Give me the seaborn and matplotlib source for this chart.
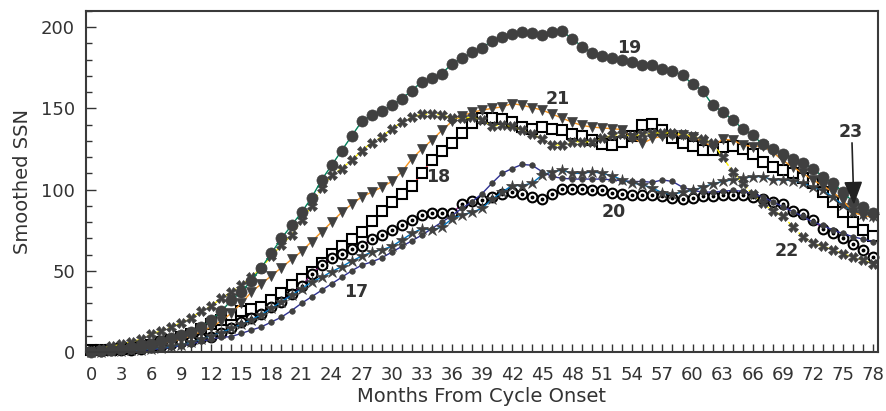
import matplotlib
matplotlib.use("Agg")
import matplotlib.pyplot as plt
from matplotlib.ticker import MultipleLocator
import seaborn as sns

# months since cycle onset
months = list(range(79))

# smoothed sunspot number per cycle
cycle17 = [0, 0.2, 0.4, 0.6, 0.8, 1, 1.5, 2, 3, 4, 5, 6.5, 8, 9, 9.5, 11.5, 13.5, 15.5, 18.5, 21.5,
           25.5, 30, 34, 38, 42, 46, 50, 53.5, 55.5, 58, 61.5, 65, 68.5, 72, 76, 80, 84, 88.5, 92.5, 97.5,
           104, 110, 113, 115.5, 115, 111, 108, 107, 106.5, 106.5, 106.5, 106.5, 106, 105.5, 105, 105, 104.5, 106, 105, 101.5,
           99.5, 98.5, 98.5, 99, 99.5, 99, 97.5, 95.5, 92.5, 89.5, 86.5, 83.5, 80, 78, 75, 73, 71, 69.5, 68]
cycle18 = [1, 1, 1.5, 2, 2.5, 3.5, 4.5, 6, 7.5, 9, 11, 14, 17, 19.5, 22.5, 25.5, 26.5, 28, 32, 36.5,
           41, 45, 49.5, 55, 60.5, 65, 69.5, 74, 80.5, 87, 92.5, 97.5, 102, 110, 118.5, 124, 129, 135, 141, 144,
           144, 143.5, 141.5, 138.5, 137.5, 138.5, 137.5, 136.5, 134.5, 133, 130.5, 128, 127.5, 129.5, 133, 139.5, 140.5, 136.5, 131.5, 128.5,
           127, 124.5, 124.5, 126.5, 127, 125, 122, 117, 114, 112, 110, 107, 104, 98.5, 92.5, 86, 80, 75, 71.5]
cycle19 = [0, 0.5, 1, 2, 3, 4, 5, 6.5, 8.5, 10.5, 12.5, 15.5, 20, 25, 32, 37, 44, 52, 61, 70,
           78, 86, 95, 106, 115, 124, 133, 142, 146, 148.5, 152, 156, 161, 166.5, 168.5, 171.5, 177.5, 181, 184.5, 187.5,
           191.5, 194, 196, 197, 196.5, 195, 197, 197.5, 193, 188, 184, 182, 181, 180, 178.5, 177, 176.5, 174.5, 173, 170.5,
           165, 161, 152, 148, 143, 137.5, 133.5, 128, 125, 122, 119, 116.5, 113, 108, 104, 98.5, 92.5, 89.5, 85.5]
cycle20 = [0.5, 0.5, 1, 1, 1.5, 2, 3, 4, 5, 6, 7, 8.5, 9.5, 11.5, 15, 18.5, 21, 23.5, 28, 31,
           35.5, 40.5, 48, 53.5, 58, 60.5, 63.5, 65.5, 69.5, 72, 75, 78, 81.5, 84.5, 85.5, 85.5, 85.5, 91, 93, 93.5,
           95.5, 97.5, 98.5, 97, 95.5, 94.5, 97.5, 100.5, 100.5, 100.5, 100, 99.5, 98, 97, 96.5, 96.5, 96.5, 96, 95, 94.5,
           95, 96, 96, 96.5, 96.5, 96.5, 95.5, 94.5, 92.5, 91, 87, 85, 81, 76, 73, 70, 66.5, 63, 58.5]
cycle21 = [0, 0.5, 1, 1.5, 2, 3, 4, 5, 6.5, 8, 10, 12.5, 15.5, 19, 24, 30, 37, 42, 47, 52,
           57, 62, 68, 74, 80, 86, 91, 95.5, 98.5, 101.5, 105, 111, 119, 125, 130.5, 136.5, 142, 145.5, 147.5, 149,
           150, 151, 153, 152, 150.5, 149, 146.5, 144, 141.5, 139.5, 138.5, 138, 137.5, 137, 132, 128.5, 131.5, 133, 133.5, 133.5,
           132.5, 129.5, 126.5, 131, 130.5, 127.5, 126.5, 127, 123, 118, 114, 110, 106, 102.5, 98.5, 93.5, 86, 84, 83]
cycle22 = [0.5, 2, 3.5, 5, 6, 8, 11, 13, 15.5, 18, 21, 25, 28.5, 33, 37, 41, 46, 52, 59, 66,
           72, 81, 90, 101, 109, 113, 118, 124, 129, 132.5, 137.5, 141.5, 144.5, 146.5, 146.5, 146, 144, 144, 144.5, 143,
           139, 140, 139, 136.5, 134.5, 131, 127.5, 127.5, 129.5, 129.5, 129.5, 131.5, 133.5, 134, 133, 134, 135, 135, 135, 134,
           133, 131, 129, 120, 111, 104, 97, 91.5, 87, 84, 77, 71, 67, 65, 63, 60.5, 58.5, 56.5, 54.5]
cycle23 = [0, 0.3, 0.5, 0.8, 1, 1.5, 2, 2.5, 3.5, 4.5, 6, 8, 10, 12, 14.5, 17, 20, 23, 27, 31,
           35, 39, 43, 46, 49.5, 52.5, 56, 59, 61.5, 63, 65, 69, 73, 76, 75, 77, 82, 84.5, 86, 88.5,
           94, 98.5, 102.5, 102.5, 104, 109, 111, 112, 110, 110, 111, 110, 108.5, 106, 104, 103, 101, 98, 97, 98.5,
           99.5, 101.5, 103.5, 105, 106, 107, 108, 108, 106, 106, 105.5, 104, 101.5, 99.5, 95.5, 90.5, 86.5, 85, 83.5]

labels = ["17", "18", "19", "20", "21", "22", "23"]
label_x = [26.4, 34.6, 53.7, 52.1, 46.6, 69.4, 75.8]
label_y = [37, 107.7, 187, 86, 156, 62, 135.5]

dark = "#404040"
fig = plt.figure(figsize=(8.87, 4.11), dpi=100)
ax = fig.add_axes([86 / 887, 59 / 411, 792 / 887, 341 / 411])

common = dict(ax=ax, linewidth=1, clip_on=False, legend=False)
sns.lineplot(x=months, y=cycle18, color="#ed1c24", marker="s", markersize=7,
             markerfacecolor="white", markeredgecolor="black", markeredgewidth=1.5, **common)
sns.lineplot(x=months, y=cycle20, color="#92278f", marker="o", markersize=7,
             markerfacecolor="white", markeredgecolor="black", markeredgewidth=1.5, **common)
ax.plot(months, cycle20, linestyle="none", marker="o", markersize=1.8, color="black", clip_on=False)
sns.lineplot(x=months, y=cycle17, color="#2e3192", marker="o", markersize=4,
             markerfacecolor=dark, markeredgecolor=dark, markeredgewidth=0.5, **common)
sns.lineplot(x=months, y=cycle23, color="#0072bc", marker="*", markersize=9,
             markerfacecolor=dark, markeredgecolor=dark, markeredgewidth=0.5, **common)
sns.lineplot(x=months, y=cycle21, color="#f7941d", marker="v", markersize=7,
             markerfacecolor=dark, markeredgecolor=dark, markeredgewidth=0.5, **common)
sns.lineplot(x=months, y=cycle22, color="#fff200", marker="X", markersize=7, linestyle="--",
             markerfacecolor=dark, markeredgecolor=dark, markeredgewidth=0.5, **common)
sns.lineplot(x=months, y=cycle19, color="#00805a", marker="o", markersize=8,
             markerfacecolor=dark, markeredgecolor=dark, markeredgewidth=0.5, **common)

for t, lx, ly in zip(labels, label_x, label_y):
    ax.text(lx, ly, t, fontsize=12.5, fontweight="bold", color="#333333",
            ha="center", va="center")

ax.annotate("", xy=(76.1, 89), xytext=(75.9, 130.5),
            arrowprops=dict(arrowstyle="-|>,head_length=0.75,head_width=0.3",
                            color="#222222", lw=1.2, mutation_scale=19))

ax.set_xlim(-0.5, 78.5)
ax.set_ylim(0, 210)
ax.xaxis.set_major_locator(MultipleLocator(3))
ax.xaxis.set_minor_locator(MultipleLocator(1))
ax.yaxis.set_major_locator(MultipleLocator(50))
ax.yaxis.set_minor_locator(MultipleLocator(10))
ax.tick_params(axis="both", which="both", direction="in", colors="#333333",
               top=False, right=False, labelsize=13)
ax.tick_params(axis="x", which="both", length=6, width=1, pad=10)
ax.tick_params(axis="y", which="major", length=7, width=1, pad=8)
ax.tick_params(axis="y", which="minor", length=4, width=1)
for s in ax.spines.values():
    s.set_color("#3a3a3a")
    s.set_linewidth(1.5)

ax.set_xlabel("Months From Cycle Onset", fontsize=14, color="#333333", labelpad=2)
ax.set_ylabel("Smoothed SSN", fontsize=14, color="#333333", labelpad=6)

fig.savefig("out.png", dpi=100)
